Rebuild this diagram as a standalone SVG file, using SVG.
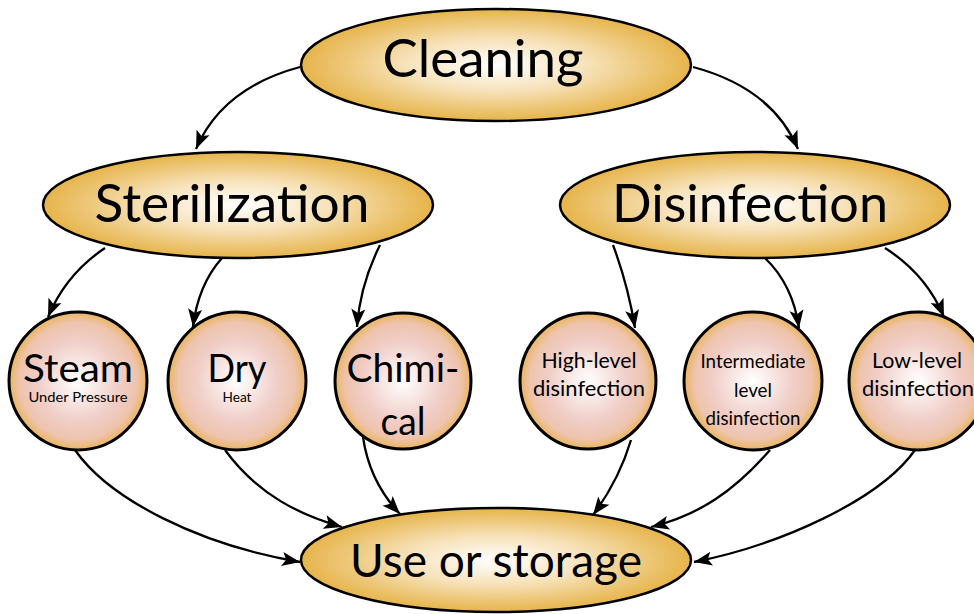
<svg xmlns="http://www.w3.org/2000/svg" width="974" height="614" viewBox="0 0 974 614">
  <defs>
    <radialGradient id="goldFill" cx="0.5" cy="0.5" r="0.5">
      <stop offset="0" stop-color="#FFFFFF"/>
      <stop offset="0.45" stop-color="#F7E3BC"/>
      <stop offset="1" stop-color="#E6B44A"/>
    </radialGradient>
    <radialGradient id="roseFill" cx="0.5" cy="0.5" r="0.5">
      <stop offset="0" stop-color="#FFFFFF"/>
      <stop offset="0.6" stop-color="#F0CDC6"/>
      <stop offset="0.85" stop-color="#EEC4AE"/>
      <stop offset="1" stop-color="#EAB55E"/>
    </radialGradient>
    <marker id="arrow" viewBox="-20 -9 22 18" refX="0" refY="0" markerWidth="22" markerHeight="18" markerUnits="userSpaceOnUse" orient="auto">
      <path d="M0,0 L-18,-7 L-14,0 L-18,7 Z" fill="#000"/>
    </marker>
    <style>
      .big { fill: url(#goldFill); stroke: #000; stroke-width: 2.5; }
      .small { fill: url(#roseFill); stroke: #000; stroke-width: 3; }
      .link { fill: none; stroke: #000; stroke-width: 2.3; marker-end: url(#arrow); }
      text { font-family: Lato, "Open Sans", "Liberation Sans", sans-serif; fill: #000; text-anchor: middle; }
    </style>
  </defs>

  <!-- connectors -->
  <g id="connectors">
    <path class="link" d="M300,67 Q222,88 196,149"/>
    <path class="link" d="M693,67 Q772,88 798,149"/>
    <path class="link" d="M105,248 Q66,274 48,317"/>
    <path class="link" d="M222,258 Q198,285 193,327"/>
    <path class="link" d="M380,245 Q360,285 357,327"/>
    <path class="link" d="M613,245 Q628,285 635,328"/>
    <path class="link" d="M765,258 Q793,285 799,328"/>
    <path class="link" d="M885,248 Q926,274 944,317"/>
    <path class="link" d="M75,450 C110,500 200,545 300,562"/>
    <path class="link" d="M225,450 C258,495 300,515 342,527"/>
    <path class="link" d="M363,437 C368,472 382,495 400,514"/>
    <path class="link" d="M631,440 C622,470 608,495 593,515"/>
    <path class="link" d="M770,450 C735,490 700,515 651,527"/>
    <path class="link" d="M915,450 C880,500 780,545 694,562"/>
  </g>

  <g id="cleaning">
    <ellipse class="big" cx="496" cy="65" rx="195" ry="56"/>
    <text x="483" y="77" font-size="52" textLength="201" lengthAdjust="spacingAndGlyphs">Cleaning</text>
  </g>

  <g id="sterilization">
    <ellipse class="big" cx="238" cy="205" rx="195" ry="53"/>
    <text x="232" y="222" font-size="52" textLength="275" lengthAdjust="spacingAndGlyphs">Sterilization</text>
  </g>

  <g id="disinfection">
    <ellipse class="big" cx="755" cy="205" rx="195" ry="53"/>
    <text x="750" y="222" font-size="52" textLength="276" lengthAdjust="spacingAndGlyphs">Disinfection</text>
  </g>

  <g id="use-storage">
    <ellipse class="big" cx="496" cy="560" rx="195" ry="52"/>
    <text x="496" y="577" font-size="47" textLength="292" lengthAdjust="spacingAndGlyphs">Use or storage</text>
  </g>

  <g id="steam">
    <circle class="small" cx="78" cy="381" r="69"/>
    <text x="78" y="382" font-size="38" textLength="110" lengthAdjust="spacingAndGlyphs">Steam</text>
    <text x="78" y="402" font-size="13" textLength="99" lengthAdjust="spacingAndGlyphs">Under Pressure</text>
  </g>

  <g id="dry">
    <circle class="small" cx="237" cy="381" r="69"/>
    <text x="237" y="382" font-size="38" textLength="59" lengthAdjust="spacingAndGlyphs">Dry</text>
    <text x="237" y="402" font-size="13" textLength="29" lengthAdjust="spacingAndGlyphs">Heat</text>
  </g>

  <g id="chemical">
    <circle class="small" cx="403" cy="381" r="68"/>
    <text x="403" y="382" font-size="38" textLength="113" lengthAdjust="spacingAndGlyphs">Chimi-</text>
    <text x="403" y="435" font-size="38" textLength="45" lengthAdjust="spacingAndGlyphs">cal</text>
  </g>

  <g id="high-level">
    <circle class="small" cx="588" cy="381" r="68"/>
    <text x="589" y="368" font-size="21" textLength="95" lengthAdjust="spacingAndGlyphs">High-level</text>
    <text x="589" y="396" font-size="21" textLength="112" lengthAdjust="spacingAndGlyphs">disinfection</text>
  </g>

  <g id="intermediate-level">
    <circle class="small" cx="753" cy="381" r="69"/>
    <text x="753" y="368" font-size="19" textLength="105" lengthAdjust="spacingAndGlyphs">Intermediate</text>
    <text x="753" y="397" font-size="19" textLength="38" lengthAdjust="spacingAndGlyphs">level</text>
    <text x="753" y="425" font-size="19" textLength="95" lengthAdjust="spacingAndGlyphs">disinfection</text>
  </g>

  <g id="low-level">
    <circle class="small" cx="918" cy="381" r="69"/>
    <text x="917" y="368" font-size="21" textLength="90" lengthAdjust="spacingAndGlyphs">Low-level</text>
    <text x="918" y="396" font-size="21" textLength="112" lengthAdjust="spacingAndGlyphs">disinfection</text>
  </g>
</svg>
